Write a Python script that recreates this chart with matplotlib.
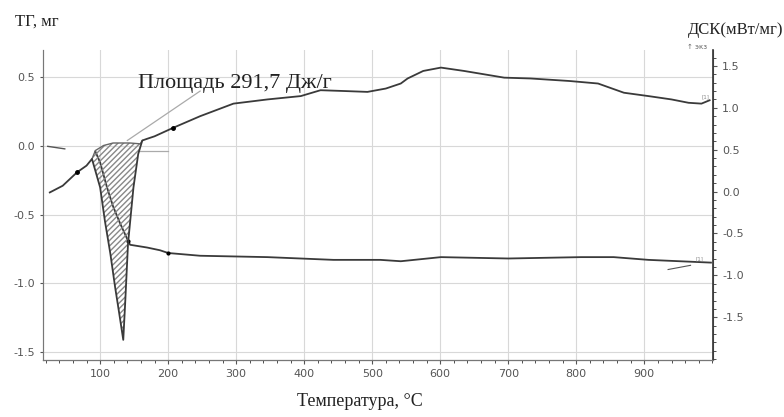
import numpy as np
import matplotlib
matplotlib.use("Agg")
import matplotlib.pyplot as plt
from matplotlib.ticker import MultipleLocator

plt.rcParams["axes.unicode_minus"] = False

# ---- data ----
# DSC curve (right axis, mW/mg)
dsc_t = [26, 45, 66, 80, 88, 100, 107, 115, 122, 128, 134, 137, 141, 149, 156, 162,
         169, 180, 207, 247, 296, 346, 395, 424, 460, 493, 520, 542,
         552, 575, 601, 635, 694, 733, 790, 832, 870, 906, 940, 965, 984, 996]
dsc_v = [-0.01, 0.07, 0.23, 0.31, 0.39, 0.05, -0.35, -0.74, -1.14, -1.45, -1.77, -1.30,
         -0.62, 0.05, 0.45, 0.61, 0.63, 0.66, 0.76, 0.90, 1.05, 1.10, 1.14, 1.21, 1.20,
         1.19, 1.23, 1.29, 1.35, 1.44, 1.48, 1.44, 1.36, 1.35, 1.32, 1.29, 1.18, 1.14,
         1.10, 1.06, 1.05, 1.09]

# TG curve (left axis, mg)
tg_t = [93, 100, 110, 119, 129, 140, 144, 169, 188, 200, 247, 346, 443, 512, 542, 601,
        700, 807, 855, 906, 998]
tg_v = [-0.04, -0.12, -0.30, -0.44, -0.56, -0.68, -0.72, -0.74, -0.76, -0.78, -0.80,
        -0.81, -0.83, -0.83, -0.84, -0.81, -0.82, -0.81, -0.81, -0.83, -0.85]

# integration baseline under the DSC peak (right axis)
base_t = [88, 93, 105, 119, 144, 159, 162]
base_v = [0.39, 0.49, 0.55, 0.58, 0.58, 0.57, 0.61]

area_label = "Площадь 291,7 Дж/г"
x_ticks = [100, 200, 300, 400, 500, 600, 700, 800, 900]
left_ticks = [0.5, 0.0, -0.5, -1.0, -1.5]
right_ticks = [1.5, 1.0, 0.5, 0.0, -0.5, -1.0, -1.5]

# ---- figure ----
fig = plt.figure(figsize=(7.84, 4.17), dpi=100)
ax = fig.add_axes([43/784, 1-360/417, (713-43)/784, (360-50)/417])
ax2 = ax.twinx()

line_c = "#3a3a3a"
grid_c = "#d8d8d8"
tick_c = "#555555"

ax.set_xlim(16, 1001)
ax.set_ylim(-1.56, 0.70)
ax2.set_ylim(-2.01, 1.69)

ax.set_xticks(x_ticks)
ax.xaxis.set_minor_locator(MultipleLocator(20))
ax.set_yticks(left_ticks)
ax2.set_yticks(right_ticks)
ax2.yaxis.set_minor_locator(MultipleLocator(0.1))

ax.grid(True, which="major", color=grid_c, lw=0.8)
ax.set_axisbelow(True)

for a in (ax, ax2):
    a.tick_params(labelsize=8, colors=tick_c, labelcolor=tick_c)
    for s in a.spines.values():
        s.set_color("#777777")
    a.spines["top"].set_visible(False)
ax.spines["left"].set_color("#999999")
ax2.spines["right"].set_color("#333333")
ax2.spines["right"].set_linewidth(1.2)
ax.spines["bottom"].set_color("#333333")
ax.tick_params(axis="x", which="major", length=3, direction="out")
ax.tick_params(axis="x", which="minor", length=2, direction="out", color="#333333")
ax.tick_params(axis="y", length=2)
ax2.tick_params(axis="y", which="major", length=3)
ax2.tick_params(axis="y", which="minor", length=2, color="#333333")

# hatch area under peak
grid_t = np.linspace(base_t[0], base_t[-1], 300)
d_i = np.interp(grid_t, dsc_t, dsc_v)
b_i = np.interp(grid_t, base_t, base_v)
ax2.fill_between(grid_t, d_i, b_i, facecolor="none", edgecolor="#888888",
                 hatch="//////", linewidth=0)
ax2.plot(base_t, base_v, color="#666666", lw=1.0)
# pointer line from baseline to label
ax2.plot([140, 247], [0.61, 1.20], color="#aaaaaa", lw=0.9)
ax2.plot([155, 200], [0.49, 0.49], color="#aaaaaa", lw=0.9)
ax2.plot([23, 48], [0.54, 0.51], color="#555555", lw=1.0)
ax2.plot([935, 968], [-0.93, -0.88], color="#555555", lw=0.8)

# curves
ax2.plot(dsc_t, dsc_v, color=line_c, lw=1.3)
ax.plot(tg_t, tg_v, color=line_c, lw=1.3)
ax2.plot([66, 207], [0.23, 0.76], ls="none", marker="o", ms=2.5, color="black")
ax.plot([141, 200], [-0.69, -0.78], ls="none", marker="o", ms=2.0, color="black")

ax2.text(984, 1.10, "[1]", fontsize=4, color="#888888", ha="left", va="bottom")
ax.text(975, -0.84, "[1]", fontsize=4, color="#888888", ha="left", va="bottom")

serif = ["Liberation Serif", "DejaVu Serif"]
ax.text(156, 0.455, area_label, fontsize=16, family=serif, color="#222222",
        ha="left", va="center")

fig.text(15/784, 1-22/417, "ТГ, мг", fontsize=12, family=serif, color="#222222",
         ha="left", va="center")
fig.text(783/784, 1-30/417, "ДСК(мВт/мг)", fontsize=12, family=serif, color="#222222",
         ha="right", va="center")
fig.text(360/784, 1-402/417, "Температура, °С", fontsize=13, family=serif, color="#222222",
         ha="center", va="center")
fig.text(697/784, 1-47/417, "↑ экз", fontsize=5, color="#666666", ha="center", va="center")

fig.savefig("out.png", dpi=100, facecolor="white")
